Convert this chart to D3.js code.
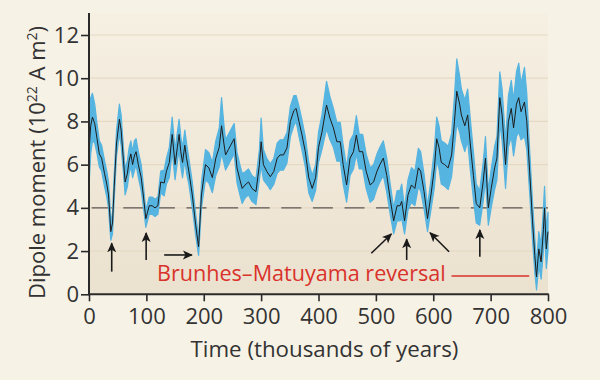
<!DOCTYPE html>
<html><head><meta charset="utf-8">
<script src="https://cdn.jsdelivr.net/npm/d3@7"></script>
<style>
html,body{margin:0;padding:0;background:#f7f2e6;}
svg{display:block;}
text{font-family:"Open Sans",sans-serif;}
</style></head>
<body>
<svg id="c" width="600" height="380"></svg>
<script>
// time (thousands of years)
const times = [
 0,3,6,10,14,18,22,27,31,34,
 36,38,41,44,48,53,56,60,63,67,
 70,73,76,79,82,86,91,95,99,102,
 105,110,115,120,125,131,135,140,145,150,
 154,157,160,163,167,170,174,180,186,191,
 196,203,209,215,221,227,231,235,238,243,
 247,253,258,263,267,272,278,284,291,297,
 300,304,310,316,322,328,333,339,345,351,
 357,361,366,371,377,383,389,395,400,406,
 414,420,426,432,438,443,449,455,461,466,
 471,477,483,490,496,502,507,513,519,525,
 531,537,542,545,550,556,562,568,574,578,
 584,590,596,602,606,610,614,620,626,632,
 637,641,646,649,655,660,664,670,675,681,
 687,691,696,701,707,711,716,720,726,731,
 736,740,745,749,753,759,763,768,773,777,
 780,784,788,792,794,797,800];
// dipole moment (10^22 A m^2)
const dipole = [
 6.6,7.8,8.2,7.9,7.2,6.5,6.3,5.6,5.1,4.6,
 3.8,2.9,3.3,5.0,7.0,8.1,7.6,6.2,5.2,5.6,
 6.2,6.5,6.0,6.4,6.6,6.0,5.4,4.5,3.5,3.8,
 4.1,4.1,4.0,4.1,5.2,5.15,5.7,6.1,7.4,6.0,
 6.8,7.4,6.6,6.1,6.9,6.3,5.7,4.6,3.2,2.2,
 4.6,6.0,5.85,5.4,6.3,6.8,7.8,7.0,6.45,6.7,
 6.9,7.2,5.85,5.3,4.9,5.06,5.2,4.9,4.75,6.0,
 7.06,6.0,5.68,5.44,5.68,6.3,6.45,6.45,6.77,8.0,
 8.5,8.6,8.0,7.4,6.6,5.4,4.9,5.4,6.8,7.5,
 8.76,8.15,7.7,7.06,7.06,6.0,5.06,6.3,6.6,7.37,
 6.6,6.6,5.7,5.06,5.2,5.7,6.0,6.3,5.5,4.4,
 3.4,4.1,4.1,4.3,3.4,4.6,5.06,4.9,5.85,5.7,
 4.75,3.5,4.6,5.85,7.2,6.8,6.1,6.0,5.85,6.45,
 8.0,9.4,8.8,8.3,7.8,8.3,7.1,5.5,4.2,4.0,
 5.2,6.3,4.0,4.9,5.85,6.3,9.1,8.3,6.0,8.0,
 8.6,7.7,8.8,9.1,8.45,8.9,8.0,5.7,3.4,1.8,
 0.8,2.1,1.5,3.0,4.0,2.1,2.9];
// uncertainty half-width (blue band)
const uncertainty = [
 1.6,1.3,1.1,0.9,0.7,0.6,0.6,0.6,0.6,0.6,
 0.6,0.4,0.5,0.6,0.6,0.7,0.7,0.6,0.6,0.6,
 0.6,0.6,0.6,0.7,0.6,0.6,0.6,0.5,0.4,0.4,
 0.4,0.4,0.4,0.4,0.5,0.6,0.6,0.7,0.8,0.7,
 0.7,0.7,0.7,0.7,0.7,0.7,0.6,0.6,0.5,0.4,
 0.6,0.7,0.7,0.7,0.8,0.9,1.3,0.9,0.7,0.7,
 0.7,0.7,0.7,0.7,0.7,0.6,0.6,0.6,0.6,0.7,
 1.1,0.7,0.6,0.6,0.6,0.7,0.7,0.7,0.7,0.7,
 0.7,0.6,0.7,0.7,0.7,0.7,0.6,0.6,0.7,0.8,
 1.1,1.0,0.9,0.9,0.9,0.9,0.8,0.8,0.8,0.9,
 0.8,0.8,0.8,0.8,0.8,0.8,0.8,0.8,0.8,0.7,
 0.6,0.7,0.7,0.8,0.6,0.7,0.8,0.8,0.9,0.9,
 0.8,0.6,0.7,0.9,1.0,1.0,1.0,1.0,1.0,1.0,
 1.2,1.5,1.3,1.2,1.2,1.2,1.2,1.1,0.9,0.8,
 0.9,1.0,0.8,0.9,1.0,1.0,1.2,1.2,1.1,1.2,
 1.3,1.3,1.5,1.6,1.3,1.6,1.3,1.0,0.9,0.8,
 0.6,0.8,0.8,1.0,1.0,0.9,0.9];

const xTicks = [0,100,200,300,400,500,600,700,800];
const yTicks = [0,2,4,6,8,10,12];
const gridValues = [2,4,6,8,10,12];
const threshold = 4;
// arrows: [x1,y1,x2,y2] in data units (tail -> tip)
const arrows = [
 [39.6,1.05,39.6,2.36],
 [99.6,1.59,99.6,2.84],
 [131,1.82,179.4,1.82],
 [492,1.9,527,2.79],
 [553.7,1.59,553.7,2.55],
 [627.6,1.97,594.4,2.85],
 [681.2,1.74,681.2,2.98]
];
const reversalLabel = "Brunhes–Matuyama reversal";
const reversalLine = [631.8, 767.3, 0.85];

const svg = d3.select("#c");
const W = 600, H = 380;
const m = {l:89, r:52, t:13, b:86};
const x = d3.scaleLinear().domain([0,800]).range([m.l, W-m.r]);
const y = d3.scaleLinear().domain([0,12]).range([294.3, 35]);

const defs = svg.append("defs");
const grad = defs.append("linearGradient").attr("id","bg").attr("x1",0).attr("y1",0).attr("x2",0).attr("y2",1);
grad.append("stop").attr("offset","0%").attr("stop-color","#f6f0e3");
grad.append("stop").attr("offset","100%").attr("stop-color","#ebe1cf");
const mk = defs.append("marker").attr("id","ah").attr("viewBox","0 0 10 10")
  .attr("refX",9).attr("refY",5).attr("markerWidth",10).attr("markerHeight",10)
  .attr("markerUnits","userSpaceOnUse").attr("orient","auto");
mk.append("path").attr("d","M0,0.5 L10,5 L0,9.5 L2.5,5 Z").attr("fill","#1a1a1a");

svg.append("rect").attr("width",W).attr("height",H).attr("fill","#f7f2e6");
svg.append("rect").attr("x",x(0)).attr("y",m.t).attr("width",x(800)-x(0)).attr("height",y(0)-m.t).attr("fill","url(#bg)");

svg.append("g").selectAll("line").data(gridValues).join("line")
  .attr("x1",x(0)).attr("x2",x(800)).attr("y1",d=>y(d)).attr("y2",d=>y(d))
  .attr("stroke","#e6d9c4").attr("stroke-width",1.2);

const data = times.map((t,i)=>({t, v:dipole[i], e:uncertainty[i]}));

svg.append("line").attr("x1",x(0)).attr("x2",x(800)).attr("y1",y(threshold)).attr("y2",y(threshold))
  .attr("stroke","#5a5653").attr("stroke-width",1.3).attr("stroke-dasharray","20,11.6").attr("stroke-dashoffset",-2.7);

svg.append("path").datum(data)
  .attr("d", d3.area().x(d=>x(d.t)).y0(d=>y(Math.max(0,d.v-d.e))).y1(d=>y(d.v+d.e)))
  .attr("fill","#56b4e0").attr("stroke","#56b4e0").attr("stroke-width",1.2).attr("stroke-linejoin","round");

svg.append("path").datum(data)
  .attr("d", d3.line().x(d=>x(d.t)).y(d=>y(d.v)))
  .attr("fill","none").attr("stroke","#1c1c1c").attr("stroke-width",1);

svg.append("g").selectAll("line").data(arrows).join("line")
  .attr("x1",d=>x(d[0])).attr("y1",d=>y(d[1])).attr("x2",d=>x(d[2])).attr("y2",d=>y(d[3]))
  .attr("stroke","#1a1a1a").attr("stroke-width",1.6).attr("marker-end","url(#ah)");

svg.append("line").attr("x1",x(reversalLine[0])).attr("x2",x(reversalLine[1]))
  .attr("y1",y(reversalLine[2])).attr("y2",y(reversalLine[2])).attr("stroke","#d9322b").attr("stroke-width",1.6);

function fit(sel, target){
  const n = sel.node(); const fs = parseFloat(sel.attr("font-size"));
  const w = n.getComputedTextLength();
  sel.attr("font-size", fs*target/w);
}
const lab = svg.append("text").attr("x",157).attr("y",281).attr("font-size",21).attr("fill","#d9322b").text(reversalLabel);
fit(lab, 289);

// axes
const xAxis = svg.append("g").attr("transform",`translate(0,${y(0)})`)
  .call(d3.axisBottom(x).tickValues(xTicks).tickSize(7).tickSizeOuter(0).tickPadding(7));
const yAxis = svg.append("g").attr("transform",`translate(${x(0)},0)`)
  .call(d3.axisLeft(y).tickValues(yTicks).tickSize(8).tickSizeOuter(0).tickPadding(2));
[xAxis,yAxis].forEach(g=>{
  g.select(".domain").remove();
  g.selectAll(".tick line").attr("stroke","#2a2a2a").attr("stroke-width",1.6);
  g.selectAll(".tick text").attr("font-family","Open Sans, sans-serif").attr("font-size",22).attr("fill","#333");
});
svg.append("line").attr("x1",x(0)).attr("x2",x(800)+0.8).attr("y1",y(0)).attr("y2",y(0)).attr("stroke","#2a2a2a").attr("stroke-width",2);
svg.append("line").attr("x1",x(0)).attr("x2",x(0)).attr("y1",m.t).attr("y2",y(0)+1).attr("stroke","#2a2a2a").attr("stroke-width",2);

const xt = svg.append("text").attr("x",324.5).attr("y",357).attr("text-anchor","middle").attr("font-size",22).attr("fill","#333").text("Time (thousands of years)");
fit(xt, 268);

const yt = svg.append("text").attr("transform","translate(45,162.5) rotate(-90)").attr("text-anchor","middle").attr("font-size",22).attr("fill","#333");
yt.append("tspan").text("Dipole moment (10");
yt.append("tspan").attr("dy",-8).attr("font-size",14).text("22");
yt.append("tspan").attr("dy",8).text(" A m");
yt.append("tspan").attr("dy",-8).attr("font-size",14).text("2");
yt.append("tspan").attr("dy",8).text(")");
</script>
</body></html>
